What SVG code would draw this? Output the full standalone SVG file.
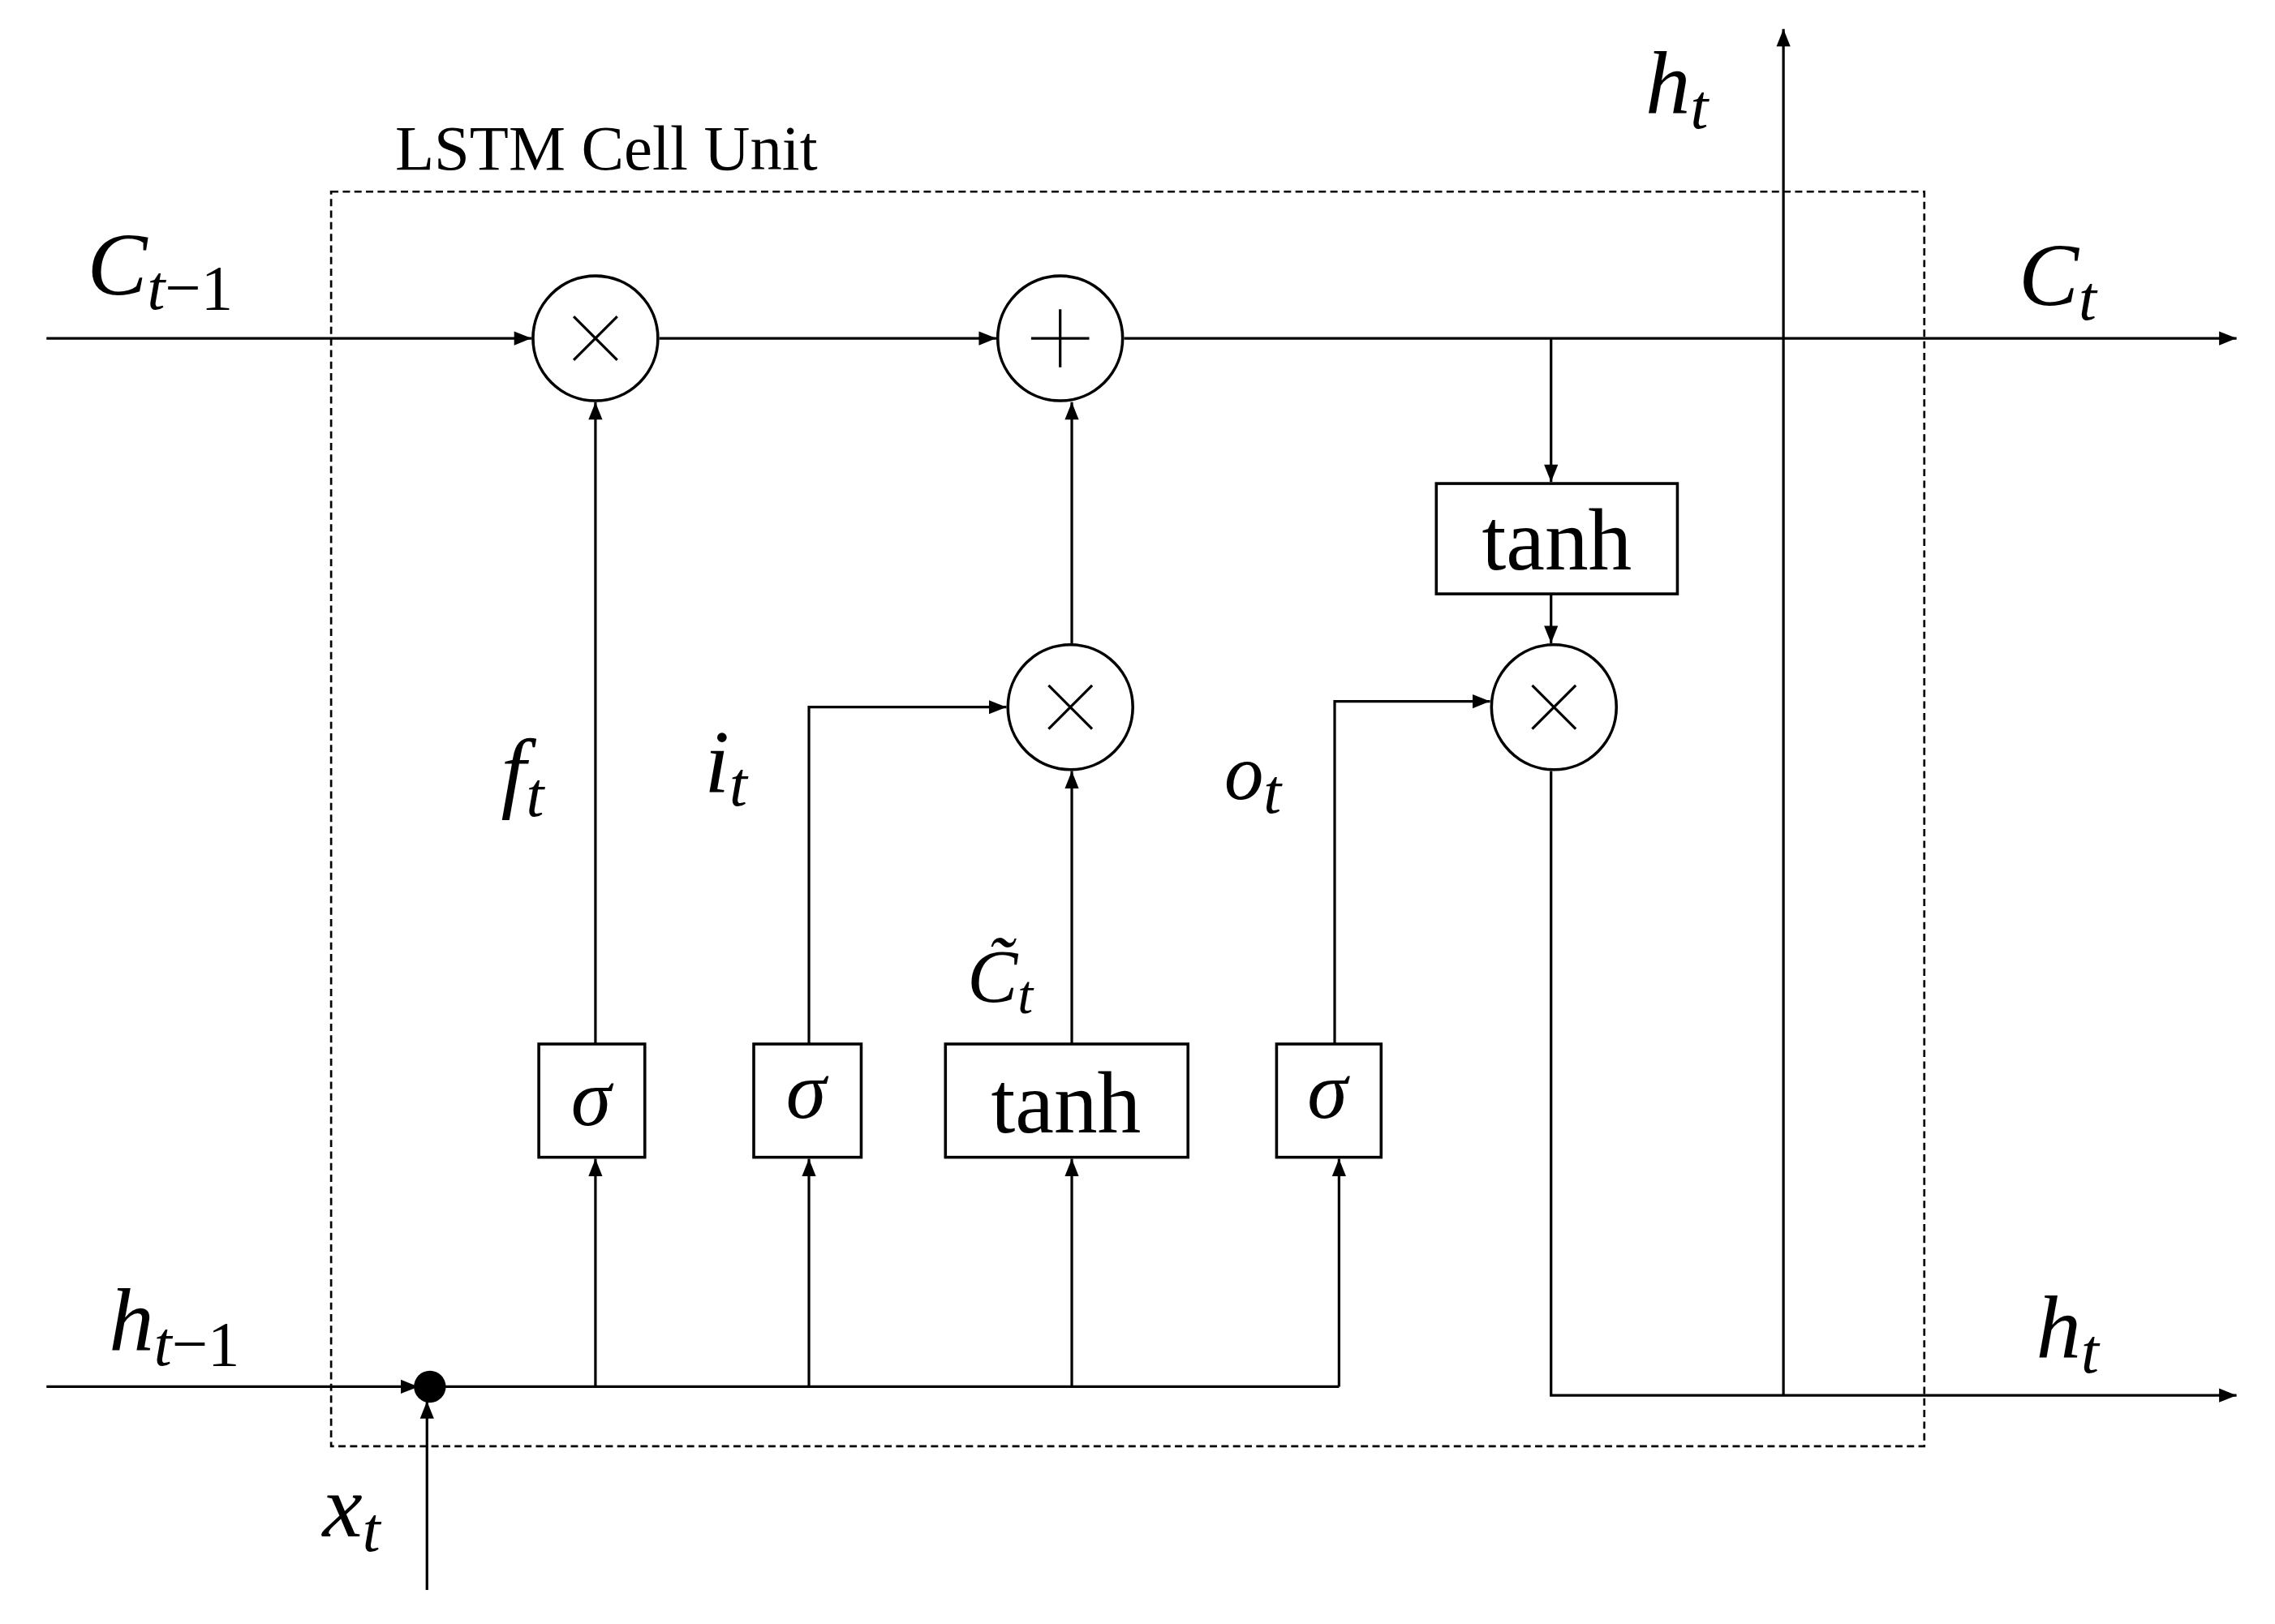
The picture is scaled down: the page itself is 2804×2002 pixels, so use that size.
<svg xmlns="http://www.w3.org/2000/svg" width="2804" height="2002" viewBox="0 0 2804 2002">
<style>
.l{fill:none;stroke:#000;stroke-width:1.8}
.b{fill:#fff;stroke:#000;stroke-width:2}
.m{font-family:'Liberation Serif',serif;font-style:italic;fill:#000}
.r{font-family:'Liberation Serif',serif;fill:#000}
</style>
<defs><marker id="a" viewBox="0 0 10 10" refX="10" refY="5" markerWidth="14" markerHeight="12" markerUnits="userSpaceOnUse" orient="auto"><path d="M0,1 L10,5 L0,9 z" fill="#000"/></marker></defs>
<rect width="2804" height="2002" fill="#fff"/>
<g transform="scale(1.79)">
<g id="cellbox"><rect x="228" y="132" width="1097" height="864" fill="none" stroke="#000" stroke-width="1.5" stroke-dasharray="5,3"/>
<text class="r" x="272" y="117" font-size="44">LSTM Cell Unit</text></g>
<g id="connectors">
<path class="l" d="M32,233 H366" marker-end="url(#a)"/>
<path class="l" d="M454,233 H686" marker-end="url(#a)"/>
<path class="l" d="M774,233 H1540" marker-end="url(#a)"/>
<path class="l" d="M1068,233 V332" marker-end="url(#a)"/>
<path class="l" d="M1068,409 V443" marker-end="url(#a)"/>
<path class="l" d="M1068,531 V961 H1540" marker-end="url(#a)"/>
<path class="l" d="M1228,961 V20" marker-end="url(#a)"/>
<path class="l" d="M32,955 H288" marker-end="url(#a)"/>
<path class="l" d="M294,1095 V965" marker-end="url(#a)"/>
<path class="l" d="M296,955 H922"/>
<path class="l" d="M410,955 V798" marker-end="url(#a)"/>
<path class="l" d="M557,955 V798" marker-end="url(#a)"/>
<path class="l" d="M738,955 V798" marker-end="url(#a)"/>
<path class="l" d="M922,955 V798" marker-end="url(#a)"/>
<path class="l" d="M410,719 V277" marker-end="url(#a)"/>
<path class="l" d="M557,719 V487 H693" marker-end="url(#a)"/>
<path class="l" d="M738,719 V531" marker-end="url(#a)"/>
<path class="l" d="M738,443 V277" marker-end="url(#a)"/>
<path class="l" d="M919,719 V483 H1026" marker-end="url(#a)"/>
<circle cx="296" cy="955" r="11" fill="#000"/>
</g>
<g id="mul1"><circle class="b" cx="410" cy="233" r="43"/><path class="l" d="M395,218 L425,248 M425,218 L395,248" stroke-width="2.2"/></g>
<g id="add"><circle class="b" cx="730" cy="233" r="43"/><path class="l" d="M730,213 V253 M710,233 H750" stroke-width="2.2"/></g>
<g id="mul2"><circle class="b" cx="737" cy="487" r="43"/><path class="l" d="M722,472 L752,502 M752,472 L722,502" stroke-width="2.2"/></g>
<g id="mul3"><circle class="b" cx="1070" cy="487" r="43"/><path class="l" d="M1055,472 L1085,502 M1085,472 L1055,502" stroke-width="2.2"/></g>
<g id="tanh2"><rect class="b" x="989" y="333" width="166" height="76"/><text class="r" x="1072" y="392" font-size="60" text-anchor="middle">tanh</text></g>
<g id="sig1"><rect class="b" x="371" y="719" width="73" height="78"/><text class="m" x="407" y="775" font-size="56" text-anchor="middle">σ</text></g>
<g id="sig2"><rect class="b" x="519" y="719" width="74" height="78"/><text class="m" x="555" y="770" font-size="56" text-anchor="middle">σ</text></g>
<g id="tanh1"><rect class="b" x="651" y="719" width="167" height="78"/><text class="r" x="734" y="780" font-size="60" text-anchor="middle">tanh</text></g>
<g id="sig3"><rect class="b" x="879" y="719" width="72" height="78"/><text class="m" x="914" y="770" font-size="56" text-anchor="middle">σ</text></g>
<g id="labels">
<text class="m" x="60" y="203" font-size="62">C<tspan font-size="44" dy="10">t</tspan><tspan class="r" font-style="normal" font-size="44">−1</tspan></text>
<text class="m" x="1390" y="210" font-size="62">C<tspan font-size="44" dy="10">t</tspan></text>
<text class="m" x="1133" y="78" font-size="62">h<tspan font-size="44" dy="10">t</tspan></text>
<text class="m" x="1402" y="935" font-size="62">h<tspan font-size="44" dy="10">t</tspan></text>
<text class="m" x="75" y="930" font-size="62">h<tspan font-size="44" dy="10">t</tspan><tspan class="r" font-style="normal" font-size="44">−1</tspan></text>
<text class="m" x="222" y="1058" font-size="62">x<tspan font-size="44" dy="10">t</tspan></text>
<text class="m" x="345" y="552" font-size="62">f<tspan font-size="44" dy="10">t</tspan></text>
<text class="m" x="485" y="545" font-size="62">i<tspan font-size="44" dy="10">t</tspan></text>
<text class="m" x="843" y="550" font-size="54">o<tspan font-size="44" dy="10">t</tspan></text>
<text class="m" x="666" y="690" font-size="52">C̃<tspan font-size="38" dy="8">t</tspan></text>
</g>
</g>
</svg>
